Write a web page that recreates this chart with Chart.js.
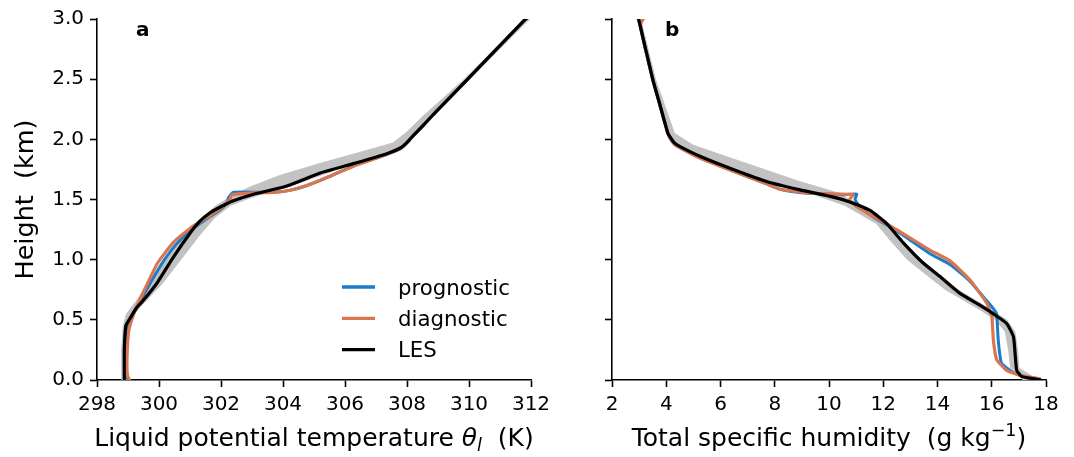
<!DOCTYPE html>
<html><head><meta charset="utf-8">
<script src="https://cdn.jsdelivr.net/npm/chart.js@4"></script>
<style>
html,body{margin:0;padding:0;background:#fff;}
#wrap{position:relative;width:1074px;height:457px;overflow:hidden;background:#fff;}
#ca{position:absolute;left:0;top:0;width:575px;height:457px;}
#cb{position:absolute;left:575px;top:0;width:499px;height:457px;}
</style></head><body>
<div id="wrap"><canvas id="ca" width="575" height="457"></canvas><canvas id="cb" width="499" height="457"></canvas></div>
<script>
// ---------- data ----------
const heightTicks = [0, 0.5, 1, 1.5, 2, 2.5, 3];
const thetaTicks = [298, 300, 302, 304, 306, 308, 310, 312];
const qTicks = [2, 4, 6, 8, 10, 12, 14, 16, 18];
const seriesNames = ['prognostic', 'diagnostic', 'LES'];

// Panel a: liquid potential temperature (K) against height (km)
const lesThetaK = [298.88,298.88,298.93,299.06,299.28,299.49,299.92,300.46,301.0,301.32,301.65,302.07,302.4,303.0,304.1,305.2,306.3,307.35,307.8,308.0,308.2,308.5,308.9,309.92,311.75,312.05];
const lesThetaH = [0.0,0.25,0.45,0.51,0.6,0.66,0.8,1.02,1.22,1.32,1.39,1.45,1.49,1.54,1.61,1.72,1.8,1.88,1.93,1.975,2.03,2.11,2.22,2.49,2.98,3.05];
const diagThetaK = [299.05,298.98,298.97,299.02,299.12,299.3,299.55,299.95,300.45,301.05,301.6,302.0,302.28,302.35,303.1,303.7,304.2,304.7,305.3,306.3,307.35,307.8,308.0,308.2,308.5,308.9,309.92,311.75,312.05];
const diagThetaH = [0.0,0.04,0.2,0.4,0.5,0.62,0.76,0.97,1.14,1.27,1.36,1.43,1.5,1.54,1.555,1.558,1.575,1.61,1.67,1.78,1.875,1.925,1.97,2.03,2.11,2.22,2.49,2.98,3.05];
const progThetaK = [299.0,298.93,298.93,299.0,299.15,299.4,299.75,300.15,300.6,301.1,301.6,302.0,302.2,302.25,302.4,303.2,303.8,304.25,304.7,305.3,306.3,307.35,307.8,308.0,308.2,308.5,308.9,309.92,311.75,312.05];
const progThetaH = [0.0,0.05,0.3,0.45,0.55,0.66,0.82,0.99,1.14,1.26,1.35,1.42,1.48,1.52,1.56,1.56,1.562,1.578,1.61,1.67,1.78,1.875,1.925,1.97,2.03,2.11,2.22,2.49,2.98,3.05];
// LES ensemble spread (grey band)
const ensThetaH = [0,0.25,0.45,0.55,0.65,0.8,1.0,1.2,1.35,1.45,1.52,1.6,1.7,1.8,1.9,1.97,2.05,2.2,2.5,3.05];
const ensThetaMin = [298.8,298.8,298.85,298.95,299.25,299.65,300.2,300.85,301.4,301.85,302.3,302.9,303.9,305.2,306.6,307.55,307.95,308.55,309.85,312.0];
const ensThetaMax = [298.97,298.97,299.02,299.2,299.55,300.1,300.7,301.3,301.8,302.3,303.0,304.1,305.2,306.3,307.5,308.0,308.35,308.85,310.0,312.15];

// Panel b: total specific humidity (g/kg) against height (km)
const lesQ = [2.95,3.5,3.75,4.06,4.14,4.3,4.51,5.24,6.47,7.7,8.93,10.16,10.77,11.51,12.13,12.74,13.48,14.09,14.83,15.5,16.06,16.55,16.8,16.86,16.92,17.1,17.66,17.8];
const lesQH = [3.03,2.5,2.3,2.05,2.02,1.97,1.94,1.86,1.75,1.65,1.58,1.52,1.48,1.41,1.30,1.14,0.97,0.86,0.72,0.63,0.55,0.47,0.36,0.22,0.08,0.03,0.005,0.0];
const diagQ = [3.2,3.05,3.5,3.75,4.06,4.14,4.3,4.51,5.24,6.47,7.7,8.2,9.0,9.55,10.3,10.9,10.75,11.02,11.63,12.49,13.72,14.46,15.2,15.81,16.0,16.06,16.18,16.55,17.04,17.78];
const diagQH = [3.02,2.95,2.5,2.3,2.05,2.01,1.96,1.93,1.845,1.735,1.63,1.585,1.56,1.55,1.545,1.54,1.5,1.44,1.36,1.25,1.08,0.99,0.83,0.64,0.53,0.33,0.17,0.08,0.04,0.01];
const progQ = [2.95,3.5,3.75,4.06,4.14,4.3,4.51,5.24,6.47,7.7,8.2,9.0,9.8,10.5,11.02,10.96,11.1,11.63,12.49,13.72,14.46,15.2,15.81,16.1,16.18,16.24,16.36,16.8,17.28,17.6];
const progQH = [3.03,2.5,2.3,2.05,2.01,1.96,1.93,1.845,1.735,1.63,1.585,1.555,1.545,1.54,1.545,1.5,1.45,1.355,1.24,1.05,0.96,0.82,0.66,0.58,0.55,0.33,0.14,0.06,0.02,0.0];
const ensQH = [0.0,0.1,0.25,0.4,0.5,0.6,0.75,0.9,1.0,1.15,1.3,1.45,1.55,1.65,1.75,1.85,1.95,2.05,2.5,3.03];
const ensQMin = [17.15,16.7,16.62,16.5,16.15,15.45,14.3,13.45,12.9,12.3,11.75,10.6,9.35,7.7,6.45,5.25,4.45,4.05,3.45,2.9];
const ensQMax = [17.7,17.0,16.95,16.85,16.55,15.85,14.75,13.95,13.4,12.75,12.15,11.05,10.4,8.9,7.6,6.3,5.0,4.3,3.6,3.02];

// ---------- helpers ----------
const FONT = '"DejaVu Sans", "Liberation Sans", sans-serif';
const COLORS = { prognostic: '#1d7bcc', diagnostic: '#d8774f', LES: '#000000', band: '#c2c2c2' };
const pts = (xs, ys) => xs.map((x, i) => ({ x: x, y: ys[i] }));
const bandPts = (mins, maxs, hs) => pts(mins, hs).concat(pts(maxs, hs).reverse());

function lineDs(label, xs, ys, color, width, order) {
  return { label, data: pts(xs, ys), showLine: true, borderColor: color, backgroundColor: color,
    borderWidth: width, pointRadius: 0, pointHoverRadius: 0, tension: 0.15, fill: false,
    borderJoinStyle: 'round', borderCapStyle: 'round', order, inLegend: true };
}
function bandDs(data) {
  return { label: 'LES ensemble', data, showLine: true, borderColor: COLORS.band, backgroundColor: COLORS.band,
    borderWidth: 1, pointRadius: 0, tension: 0, fill: 'shape', order: 10, inLegend: false };
}

const textPlugin = {
  id: 'panelText',
  afterDraw(chart, args, o) {
    const ctx = chart.ctx, a = chart.chartArea;
    ctx.save();
    ctx.fillStyle = '#000';
    ctx.textAlign = 'left';
    ctx.textBaseline = 'alphabetic';
    // panel letter
    ctx.font = 'bold 20px ' + FONT;
    ctx.fillText(o.letter, o.letterX, 36);
    // x title (pieces with sub/superscripts)
    let total = 0;
    o.xTitle.forEach(p => { ctx.font = p.f + FONT; p.w = ctx.measureText(p.t).width; total += p.w; });
    let x = (a.left + a.right) / 2 - total / 2;
    o.xTitle.forEach(p => { ctx.font = p.f + FONT; ctx.fillText(p.t, x, 446 + (p.dy || 0)); x += p.w; });
    // y title
    if (o.yTitle) {
      ctx.save();
      ctx.translate(33, (a.top + a.bottom) / 2);
      ctx.rotate(-Math.PI / 2);
      ctx.textAlign = 'center';
      ctx.font = '25.5px ' + FONT;
      ctx.fillText(o.yTitle, 0, 0);
      ctx.restore();
    }
    // legend
    if (o.legend) {
      const items = chart.data.datasets.filter(d => d.inLegend);
      const order = seriesNames.map(n => items.find(d => d.label === n));
      order.forEach((d, i) => {
        const y = o.legend.y + i * o.legend.dy;
        ctx.strokeStyle = d.borderColor;
        ctx.lineWidth = 3.3;
        ctx.beginPath(); ctx.moveTo(o.legend.x, y); ctx.lineTo(o.legend.x + 33, y); ctx.stroke();
        ctx.font = '21.3px ' + FONT;
        ctx.fillText(d.label, o.legend.x + 56, y + 7.5);
      });
    }
    ctx.restore();
  }
};

function axisCommon(min, max, step, fmt, showLabels, sizeSetter) {
  return {
    type: 'linear', min, max,
    ticks: { stepSize: step, color: '#000', font: { family: FONT, size: 20 }, padding: 6,
      maxRotation: 0, autoSkip: false, display: showLabels, callback: fmt },
    grid: { display: true, drawOnChartArea: false, drawTicks: true, tickLength: 7, tickWidth: 1.6, tickColor: '#000', color: '#000' },
    border: { display: true, color: '#000', width: 1.6 },
    afterFit: sizeSetter
  };
}

function makeChart(id, datasets, xMin, xMax, xStep, yWidth, padRight, showYLabels, textOpts) {
  return new Chart(document.getElementById(id), {
    type: 'scatter',
    data: { datasets },
    options: {
      responsive: false, animation: false, devicePixelRatio: 1,
      layout: { padding: { left: 0, top: 19, right: padRight, bottom: 0 } },
      plugins: { legend: { display: false }, tooltip: { enabled: false }, panelText: textOpts },
      events: [],
      scales: {
        x: axisCommon(xMin, xMax, xStep, v => String(v), true, s => { s.height = 77; s.paddingLeft = 0; s.paddingRight = 0; }),
        y: axisCommon(heightTicks[0], heightTicks[heightTicks.length - 1], 0.5, v => Number(v).toFixed(1), showYLabels, s => { s.width = yWidth; s.paddingTop = 0; s.paddingBottom = 0; })
      }
    },
    plugins: [textPlugin]
  });
}

makeChart('ca', [
  lineDs('LES', lesThetaK, lesThetaH, COLORS.LES, 3.2, 1),
  lineDs('diagnostic', diagThetaK, diagThetaH, COLORS.diagnostic, 3.2, 2),
  lineDs('prognostic', progThetaK, progThetaH, COLORS.prognostic, 3, 3),
  bandDs(bandPts(ensThetaMin, ensThetaMax, ensThetaH))
], thetaTicks[0], thetaTicks[thetaTicks.length - 1], 2, 97, 44, true, {
  letter: 'a', letterX: 136,
  xTitle: [ { t: 'Liquid potential temperature ', f: '25px ' }, { t: 'θ', f: 'italic 25px ' },
            { t: 'l', f: 'italic 17.5px ', dy: 5 }, { t: '  (K)', f: '25px ' } ],
  yTitle: 'Height  (km)',
  legend: { x: 342, y: 287, dy: 31.3 }
});

makeChart('cb', [
  lineDs('LES', lesQ, lesQH, COLORS.LES, 3.2, 1),
  lineDs('diagnostic', diagQ, diagQH, COLORS.diagnostic, 3.2, 2),
  lineDs('prognostic', progQ, progQH, COLORS.prognostic, 3, 3),
  bandDs(bandPts(ensQMin, ensQMax, ensQH))
], qTicks[0], qTicks[qTicks.length - 1], 2, 37, 28, false, {
  letter: 'b', letterX: 90,
  xTitle: [ { t: 'Total specific humidity  (g kg', f: '25px ' }, { t: '−1', f: '17.5px ', dy: -10 },
            { t: ')', f: '25px ' } ],
  yTitle: null,
  legend: null
});
</script>
</body></html>
